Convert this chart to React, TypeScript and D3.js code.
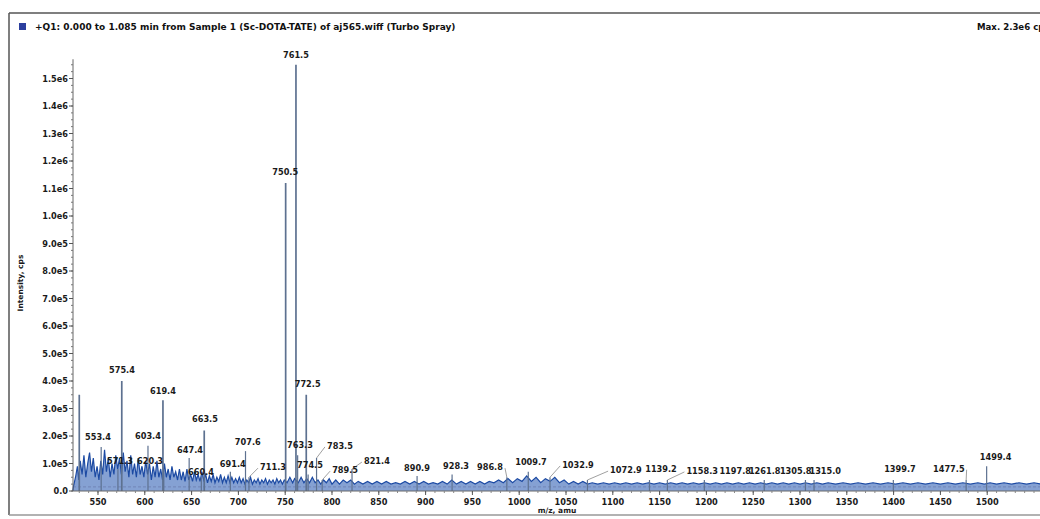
import React, { useEffect, useRef } from "react";
import * as d3 from "d3";

// intensities are kept in units of 1e4 cps
const peakMz = [530.0, 553.4, 571.3, 575.4, 603.4, 619.4, 620.3, 647.4, 660.4, 663.5, 691.4, 707.6, 711.3,
  750.5, 761.5, 763.3, 772.5, 774.5, 783.5, 789.5, 821.4, 890.9, 928.3, 986.8, 1009.7, 1032.9, 1072.9,
  1139.2, 1158.3, 1197.8, 1261.8, 1305.8, 1315.0, 1399.7, 1477.5, 1499.4];
const peakInt = [35, 16, 8, 40, 16.5, 33, 8, 12, 5, 22, 7, 14.5, 5,
  112, 155, 13, 35, 6, 12, 4, 8, 5.5, 6, 5, 7, 5, 4,
  4, 4, 4, 4, 4, 4, 4, 4, 9];
const peakLabel = ["", "553.4", "571.3", "575.4", "603.4", "619.4", "620.3", "647.4", "660.4", "663.5", "691.4", "707.6", "711.3",
  "750.5", "761.5", "763.3", "772.5", "774.5", "783.5", "789.5", "821.4", "890.9", "928.3", "986.8", "1009.7", "1032.9", "1072.9",
  "1139.2", "1158.3", "1197.8", "1261.8", "1305.8", "1315.0", "1399.7", "1477.5", "1499.4"];
// where each label sits (label centre m/z, label baseline intensity)
const labelMz = [0, 550, 573.5, 575.6, 603.4, 619.4, 605.5, 648.3, 660, 664.3, 694, 710, 737,
  750, 761.5, 765.8, 774, 776.5, 808.5, 814, 848, 890.8, 932.5, 968.8, 1012.6, 1062.8, 1114,
  1151.5, 1195.5, 1230.8, 1262.3, 1295.4, 1327, 1406.8, 1459, 1509];
const labelInt = [0, 18.5, 9.8, 43, 19, 35.3, 9.8, 13.8, 5.8, 25, 8.7, 16.7, 7.6,
  115, 157.5, 15.6, 37.8, 8.4, 15.3, 6.5, 9.8, 7.3, 8, 7.6, 9.5, 8.4, 6.5,
  7, 6.2, 6.2, 6.2, 6.2, 6.2, 7, 7, 11.3];
const hasLeader = [false, false, false, false, false, false, false, false, false, false, false, false, true,
  false, false, false, false, false, true, true, true, false, false, true, false, true, true,
  false, true, false, false, false, false, false, true, false];

// baseline noise trace [m/z, intensity]
const noise: [number, number][] = [
  [523, 0], [524, 2], [526, 5], [528, 9], [529.5, 4], [531, 11], [533, 6], [535, 13], [537, 5], [539, 10],
  [541, 14], [543, 7], [545, 12], [547, 5], [549, 9], [551, 4], [553, 11], [555, 6], [557, 15], [559, 7],
  [561, 12], [563, 5], [565, 10], [567, 6], [569, 13], [571, 8], [573, 12], [575, 6], [577, 14], [579, 7],
  [581, 11], [583, 5], [585, 13], [587, 6], [589, 10], [591, 5], [593, 12], [595, 6], [597, 9], [599, 5],
  [601, 11], [603, 6], [605, 10], [607, 4], [609, 9], [611, 5], [613, 11], [615, 5], [617, 8], [619, 4],
  [621, 10], [623, 5], [625, 8], [627, 4], [629, 9], [631, 5], [633, 7], [635, 4], [637, 8], [639, 4],
  [641, 7], [643, 3.5], [645, 8], [647, 4], [649, 6], [651, 3.5], [653, 7], [655, 4], [657, 6], [659, 3.5],
  [661, 7], [663, 4], [665, 6], [667, 3], [669, 5.5], [671, 3.5], [673, 6], [675, 3], [677, 5], [679, 3.5],
  [681, 6], [683, 3], [685, 5], [687, 3], [689, 5.5], [691, 3], [693, 5], [695, 3], [697, 4.5], [699, 3],
  [701, 5], [703, 3], [705, 4.5], [707, 2.5], [709, 4], [711, 3], [713, 5], [715, 2.5], [717, 4], [719, 3],
  [721, 4.5], [723, 2.5], [725, 4], [727, 3], [729, 4.5], [731, 2.5], [733, 4], [735, 3], [737, 4], [739, 2.5],
  [741, 4.5], [743, 3], [745, 4], [747, 2.5], [749, 4], [752, 3], [755, 5], [758, 3], [760, 4.5], [764, 3],
  [767, 5], [770, 3], [773, 4.5], [776, 3], [779, 5], [782, 3], [785, 4], [788, 2.5], [791, 4], [794, 3],
  [797, 4.5], [800, 2.5], [804, 4], [808, 2.5], [812, 4], [816, 3], [820, 4], [824, 2.5], [828, 3.5], [833, 2.5],
  [838, 3.5], [843, 2.5], [848, 3.5], [853, 2.5], [858, 3.5], [863, 2.5], [868, 3], [873, 2.5], [878, 3.5], [883, 2.5],
  [888, 3.5], [893, 2.5], [898, 3.5], [903, 2.5], [908, 3], [913, 2.5], [918, 3.5], [923, 2.5], [928, 4], [933, 2.5],
  [938, 3.5], [943, 2.5], [948, 3.5], [953, 2.5], [958, 3.5], [963, 2.5], [968, 3.5], [973, 3], [978, 4], [983, 3],
  [988, 4.5], [993, 3], [998, 4.5], [1003, 3.5], [1008, 5.5], [1013, 3.5], [1018, 5], [1023, 3], [1028, 4.5], [1033, 3.5],
  [1038, 5], [1043, 3], [1048, 4], [1053, 2.5], [1058, 3.5], [1063, 2.5], [1068, 3.5], [1073, 2.5], [1078, 3], [1084, 2.5],
  [1090, 3], [1096, 2.5], [1102, 3], [1108, 2.5], [1114, 3], [1120, 2.5], [1126, 3], [1132, 2.5], [1138, 3], [1144, 2.5],
  [1150, 3], [1156, 2.5], [1162, 3], [1168, 2.5], [1174, 3], [1180, 2.5], [1186, 3], [1192, 2.5], [1198, 3], [1204, 2.5],
  [1210, 3], [1216, 2.5], [1222, 3], [1228, 2.5], [1234, 3], [1240, 2.5], [1246, 3], [1252, 2.5], [1258, 3], [1264, 2.5],
  [1270, 3], [1276, 2.5], [1282, 3], [1288, 2.5], [1294, 3], [1300, 2.5], [1306, 3], [1312, 2.5], [1318, 3], [1324, 2.5],
  [1330, 3], [1338, 2.5], [1346, 3], [1354, 2.5], [1362, 3], [1370, 2.5], [1378, 3], [1386, 2.5], [1394, 3], [1402, 2.5],
  [1410, 3], [1418, 2.5], [1426, 3], [1434, 2.5], [1442, 3], [1450, 2.5], [1458, 3], [1466, 2.5], [1474, 3], [1482, 2.5],
  [1490, 3], [1497, 2.5], [1503, 3], [1510, 2.5], [1518, 3], [1526, 2.5], [1534, 3], [1542, 2.5], [1550, 3], [1558, 2.5],
];

const yMajor = d3.range(0, 151, 10);
const xMajor = d3.range(550, 1501, 50);

const title = "+Q1: 0.000 to 1.085 min from Sample 1 (Sc-DOTA-TATE) of aj565.wiff (Turbo Spray)";
const maxText = "Max. 2.3e6 cps.";

const fmtY = (v: number) => {
  if (v === 0) return "0.0";
  const cps = v * 1e4;
  return cps >= 1e6 ? `${(cps / 1e6).toFixed(1)}e6` : `${(cps / 1e5).toFixed(1)}e5`;
};

export default function App() {
  const ref = useRef<SVGSVGElement | null>(null);

  useEffect(() => {
    document.body.style.margin = "0";
    const width = 1040;
    const height = 519;
    const x = d3.scaleLinear().domain([523.3, 1556.4]).range([73, 1040]);
    const y = d3.scaleLinear().domain([0, 157]).range([491, 59.25]);

    const svg = d3.select(ref.current).attr("width", width).attr("height", height);
    svg.selectAll("*").remove();
    svg.append("rect").attr("width", width).attr("height", height).attr("fill", "#fff");

    const font = "'DejaVu Sans', Verdana, sans-serif";

    // outer frame
    svg.append("line").attr("x1", 9).attr("x2", width).attr("y1", 13).attr("y2", 13)
      .attr("stroke", "#555").attr("stroke-width", 1.5);
    svg.append("line").attr("x1", 9).attr("x2", 9).attr("y1", 13).attr("y2", 515)
      .attr("stroke", "#555").attr("stroke-width", 1.5);
    svg.append("line").attr("x1", 9).attr("x2", width).attr("y1", 515).attr("y2", 515)
      .attr("stroke", "#999").attr("stroke-width", 1.5);

    // title
    svg.append("rect").attr("x", 19).attr("y", 23).attr("width", 7).attr("height", 7).attr("fill", "#2c3f9e");
    svg.append("text").attr("x", 35).attr("y", 30).attr("font-family", font).attr("font-size", 9)
      .attr("font-weight", "bold").attr("fill", "#111").text(title);
    svg.append("text").attr("x", 977).attr("y", 30).attr("font-family", font).attr("font-size", 8.6)
      .attr("font-weight", "bold").attr("fill", "#111").text(maxText);

    // noise threshold line
    svg.append("line").attr("x1", x(523.3)).attr("x2", width).attr("y1", y(1.5)).attr("y2", y(1.5))
      .attr("stroke", "#b9a0a0").attr("stroke-dasharray", "3,2").attr("stroke-width", 0.8);

    // noise trace
    const area = d3.area<[number, number]>().x((d) => x(d[0])).y0(y(0)).y1((d) => y(d[1]));
    const line = d3.line<[number, number]>().x((d) => x(d[0])).y((d) => y(d[1]));
    svg.append("path").attr("d", area(noise)).attr("fill", "#3a68b8").attr("fill-opacity", 0.62);
    svg.append("path").attr("d", line(noise)).attr("fill", "none").attr("stroke", "#1c4aa3").attr("stroke-width", 1.2);

    // peak sticks
    peakMz.forEach((m, i) => {
      svg.append("line").attr("x1", x(m)).attr("x2", x(m)).attr("y1", y(0)).attr("y2", y(peakInt[i]))
        .attr("stroke", "#5d7190").attr("stroke-width", peakInt[i] > 20 ? 1.7 : 1.2);
    });

    // leaders
    peakMz.forEach((m, i) => {
      if (!hasLeader[i]) return;
      const lx = x(labelMz[i]);
      const left = lx > x(m);
      const half = peakLabel[i].length * 2.8;
      svg.append("line").attr("x1", x(m)).attr("y1", y(peakInt[i]))
        .attr("x2", left ? lx - half - 1 : lx + half + 1).attr("y2", y(labelInt[i]) - 2)
        .attr("stroke", "#777").attr("stroke-width", 0.7);
    });

    // labels
    peakLabel.forEach((t, i) => {
      if (!t) return;
      svg.append("text").attr("x", x(labelMz[i])).attr("y", y(labelInt[i]))
        .attr("text-anchor", "middle").attr("font-family", font).attr("font-size", 8.2)
        .attr("font-weight", "bold").attr("fill", "#1a1a1a").text(t);
    });

    // y axis
    const gy = svg.append("g").attr("transform", `translate(${x(523.3)},0)`);
    gy.append("line").attr("y1", y(0)).attr("y2", y(157)).attr("stroke", "#666");
    gy.selectAll(".minor").data(d3.range(0, 156, 2.5)).join("line")
      .attr("x1", 0).attr("x2", -2).attr("y1", (d) => y(d)).attr("y2", (d) => y(d)).attr("stroke", "#777");
    gy.selectAll(".major").data(yMajor).join("line")
      .attr("x1", 0).attr("x2", -4).attr("y1", (d) => y(d)).attr("y2", (d) => y(d)).attr("stroke", "#555");
    gy.selectAll("text").data(yMajor).join("text")
      .attr("x", -5).attr("y", (d) => y(d) + 3).attr("text-anchor", "end")
      .attr("font-family", font).attr("font-size", 8.2).attr("font-weight", "bold").attr("fill", "#1a1a1a")
      .text((d) => fmtY(d));

    // x axis
    const gx = svg.append("g").attr("transform", `translate(0,${y(0)})`);
    gx.append("line").attr("x1", x(523.3)).attr("x2", width).attr("stroke", "#666");
    gx.selectAll(".minor").data(d3.range(530, 1560, 10)).join("line")
      .attr("x1", (d) => x(d)).attr("x2", (d) => x(d)).attr("y1", 0).attr("y2", 2).attr("stroke", "#888");
    gx.selectAll(".major").data(xMajor).join("line")
      .attr("x1", (d) => x(d)).attr("x2", (d) => x(d)).attr("y1", 0).attr("y2", 4).attr("stroke", "#555");
    gx.selectAll("text").data(xMajor).join("text")
      .attr("x", (d) => x(d)).attr("y", 14).attr("text-anchor", "middle")
      .attr("font-family", font).attr("font-size", 8.2).attr("font-weight", "bold").attr("fill", "#1a1a1a")
      .text((d) => d);

    // axis titles
    svg.append("text").attr("x", 557).attr("y", 513).attr("text-anchor", "middle")
      .attr("font-family", font).attr("font-size", 7.5).attr("font-weight", "bold").attr("fill", "#1a1a1a")
      .text("m/z, amu");
    svg.append("text").attr("transform", `translate(23,283) rotate(-90)`).attr("text-anchor", "middle")
      .attr("font-family", font).attr("font-size", 7.5).attr("font-weight", "bold").attr("fill", "#1a1a1a")
      .text("Intensity, cps");
  }, []);

  return <svg ref={ref} style={{ display: "block" }}></svg>;
}
